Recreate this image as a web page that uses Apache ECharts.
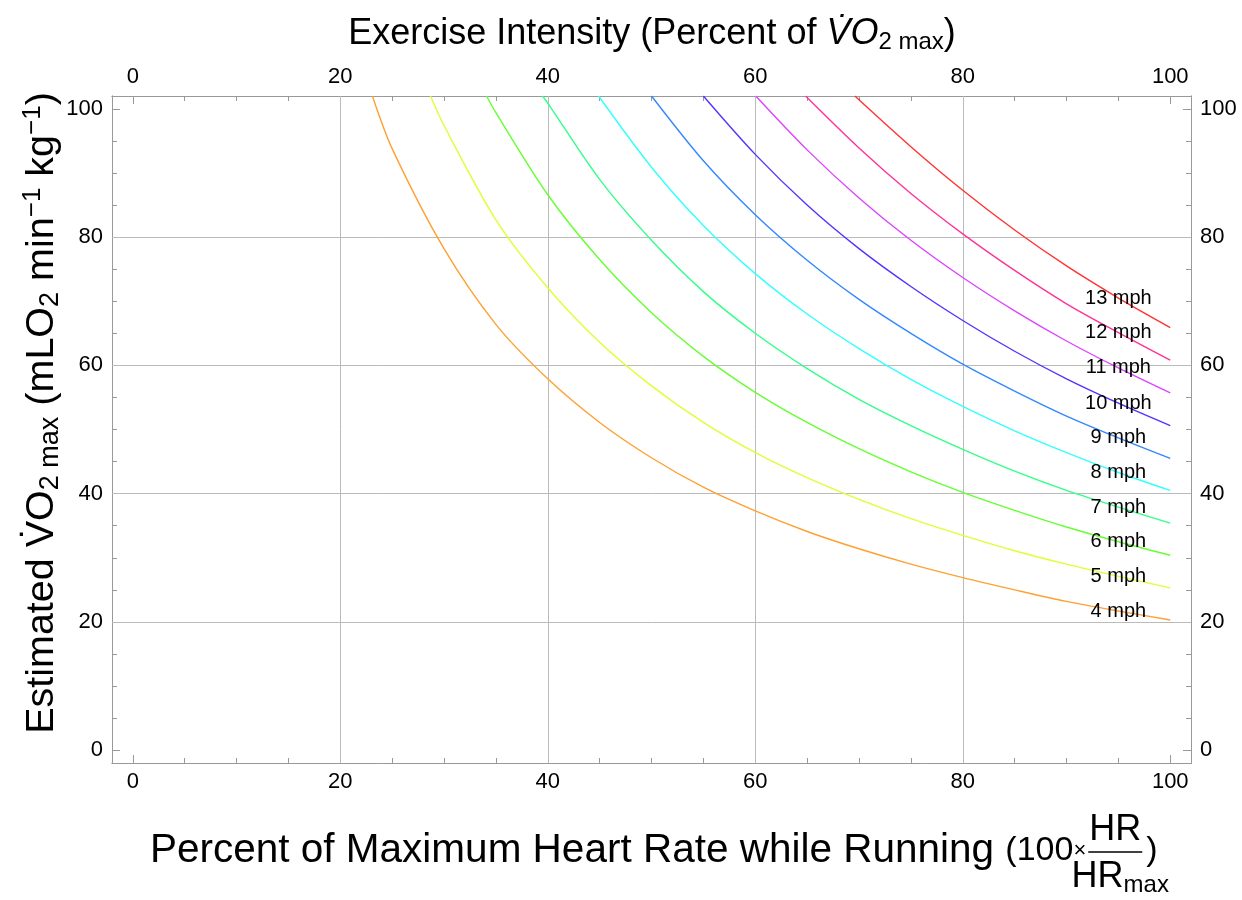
<!DOCTYPE html>
<html>
<head>
<meta charset="utf-8">
<script src="https://cdn.jsdelivr.net/npm/echarts@6/dist/echarts.min.js"></script>
<style>
  html, body { margin: 0; background: #fff; }
  #chart { width: 1242px; height: 900px; }
</style>
</head>
<body>
<div id="chart"></div>
<script>
// running speeds, one curve each
const speeds = [4, 5, 6, 7, 8, 9, 10, 11, 12, 13];
// percent of max heart rate where the values were read
const hrGrid = [25, 30, 35, 40, 45, 50, 55, 60, 65, 70, 75, 80, 85, 90, 95, 100];
// where each curve leaves the top of the frame (y = 102)
const topCrossing = [23.1, 28.7, 34.1, 39.5, 44.9, 50.0, 55.0, 60.05, 64.85, 69.6];

// estimated VO2max, aligned with hrGrid
const vo2mph4  = [93.8, 78.2, 66.4, 57.9, 51.1, 45.6, 41.0, 37.3, 34.1, 31.4, 29.0, 26.9, 25.0, 23.2, 21.7, 20.3];
const vo2mph5  = [null, 97.4, 82.7, 72.1, 63.6, 56.8, 51.1, 46.4, 42.5, 39.1, 36.1, 33.5, 31.1, 29.0, 27.1, 25.3];
const vo2mph6  = [null, null, 99.4, 86.6, 76.5, 68.2, 61.4, 55.8, 51.1, 47.0, 43.4, 40.2, 37.4, 34.8, 32.5, 30.4];
const vo2mph7  = [null, null, null, 100.9, 89.0, 79.5, 71.5, 65.0, 59.5, 54.7, 50.6, 46.9, 43.5, 40.5, 37.9, 35.4];
const vo2mph8  = [null, null, null, null, null, 90.9, 81.8, 74.3, 68.0, 62.6, 57.8, 53.6, 49.8, 46.4, 43.3, 40.5];
const vo2mph9  = [null, null, null, null, null, null, 91.9, 83.5, 76.4, 70.3, 65.0, 60.2, 56.0, 52.1, 48.7, 45.5];
const vo2mph10 = [null, null, null, null, null, null, null, 92.9, 85.0, 78.2, 72.3, 67.0, 62.2, 57.9, 54.1, 50.6];
const vo2mph11 = [null, null, null, null, null, null, null, null, 93.6, 86.1, 79.5, 73.7, 68.5, 63.8, 59.6, 55.7];
const vo2mph12 = [null, null, null, null, null, null, null, null, null, 93.9, 86.8, 80.5, 74.8, 69.6, 65.1, 60.8];
const vo2mph13 = [null, null, null, null, null, null, null, null, null, null, 94.1, 87.3, 81.1, 75.5, 70.5, 65.9];
const vo2Curves = [vo2mph4, vo2mph5, vo2mph6, vo2mph7, vo2mph8, vo2mph9, vo2mph10, vo2mph11, vo2mph12, vo2mph13];

const curveColors = ['#ffa033', '#ddff33', '#66ff33', '#33ff88', '#33ffff',
                     '#3388ff', '#5533ff', '#dd44ff', '#ff3399', '#ff3333'];

const majorTicks = [0, 20, 40, 60, 80, 100];
const minorTicks = [5, 10, 15, 25, 30, 35, 45, 50, 55, 65, 70, 75, 85, 90, 95];
const gridValues = [20, 40, 60, 80];
const labelHr = 95; // speed labels sit on the curves here

const FONT = '"Liberation Sans", Arial, sans-serif';
const axisMin = -2, axisMax = 102;

var myChart = echarts.init(document.getElementById('chart'));

// one axis copy with labels + long ticks, one with short minor ticks
function makeAxis(pos, minor) {
  var horiz = pos === 'top' || pos === 'bottom';
  return {
    type: 'value',
    position: pos,
    min: axisMin,
    max: axisMax,
    axisLine: { show: true, onZero: false, lineStyle: { color: '#999', width: 1 } },
    axisTick: {
      show: true,
      inside: true,
      length: minor ? 5 : 8,
      customValues: minor ? minorTicks : majorTicks,
      lineStyle: { color: '#999', width: 1 }
    },
    axisLabel: {
      show: !minor,
      customValues: majorTicks,
      fontSize: 22,
      fontFamily: FONT,
      color: '#000',
      margin: horiz ? 8 : 9
    },
    splitLine: { show: false }
  };
}

var series = [];
// grid lines
series.push({
  type: 'line',
  data: [],
  silent: true,
  markLine: {
    silent: true,
    z: 1,
    symbol: ['none', 'none'],
    label: { show: false },
    lineStyle: { color: '#bbb', width: 1, type: 'solid' },
    data: gridValues.map(v => ({ xAxis: v })).concat(gridValues.map(v => ({ yAxis: v })))
  }
});

vo2Curves.forEach(function (vals, i) {
  var pts = [[topCrossing[i], axisMax]];
  hrGrid.forEach(function (x, j) {
    if (vals[j] != null) pts.push([x, vals[j]]);
  });
  series.push({
    type: 'line',
    name: speeds[i] + ' mph',
    data: pts,
    showSymbol: false,
    smooth: 0.3,
    z: 3,
    lineStyle: { color: curveColors[i], width: 1.4 },
    itemStyle: { color: curveColors[i] }
  });
});

// speed labels
series.push({
  type: 'scatter',
  z: 5,
  silent: true,
  symbolSize: 1,
  itemStyle: { color: 'rgba(0,0,0,0)' },
  label: {
    show: true, position: 'inside', fontSize: 20, fontFamily: FONT,
    color: '#000', textBorderWidth: 0, opacity: 1
  },
  emphasis: { disabled: true },
  data: speeds.map(function (s, i) {
    return {
      value: [labelHr, vo2Curves[i][hrGrid.indexOf(labelHr)]],
      label: { formatter: s + ' mph' }
    };
  })
});

// measure bottom title pieces so the fraction follows them
var ctx = document.createElement('canvas').getContext('2d');
var bottomMain = 'Percent of Maximum Heart Rate while Running ';
var bottomParen = '(100';
ctx.font = '40.5px ' + FONT;
var mainX = 150;
var mainW = ctx.measureText(bottomMain).width;
ctx.font = '34px ' + FONT;
var parenW = ctx.measureText(bottomParen).width;
ctx.font = '22px ' + FONT;
var timesW = ctx.measureText('\u00d7').width;
var fracX0 = mainX + mainW + parenW + timesW + 2;
var fracX1 = fracX0 + 54;
var fracMid = (fracX0 + fracX1) / 2;

function richSet(size) {
  return {
    n: { fontSize: size, fontFamily: FONT, color: '#000', lineHeight: size + 4 },
    m: { fontSize: 34, fontFamily: FONT, color: '#000', lineHeight: size + 4 },
    i: { fontSize: size, fontFamily: FONT, color: '#000', fontStyle: 'italic', lineHeight: size + 4 },
    sub: { fontSize: Math.round(size * 0.68), fontFamily: FONT, color: '#000', verticalAlign: 'bottom', lineHeight: Math.round(size * 0.72) },
    sup: { fontSize: Math.round(size * 0.66), fontFamily: FONT, color: '#000', verticalAlign: 'top', lineHeight: Math.round(size * 0.66) },
    t: { fontSize: 22, fontFamily: FONT, color: '#000', lineHeight: size + 4 }
  };
}

var option = {
  animation: false,
  backgroundColor: '#fff',
  grid: { left: 112, right: 51, top: 96, bottom: 137 },
  xAxis: [makeAxis('bottom', false), makeAxis('bottom', true), makeAxis('top', false), makeAxis('top', true)],
  yAxis: [makeAxis('left', false), makeAxis('left', true), makeAxis('right', false), makeAxis('right', true)],
  series: series,
  graphic: [
    {
      type: 'text', x: 652, y: 34,
      style: {
        text: '{n|Exercise Intensity }{n|(}{n|Percent of }{i|V\u0307O}{sub|2 max}{n|)}',
        rich: richSet(36), align: 'center', verticalAlign: 'middle'
      }
    },
    {
      type: 'text', x: 42, y: 413, rotation: Math.PI / 2,
      style: {
        text: '{n|Estimated V\u0307O}{sub|2 max}{n| (mLO}{sub|2}{n| min}{sup|\u22121}{n| kg}{sup|\u22121}{n|)}',
        rich: richSet(39.5), align: 'center', verticalAlign: 'middle'
      }
    },
    {
      type: 'text', x: mainX, y: 851,
      style: {
        text: '{n|' + bottomMain + '}{m|' + bottomParen + '}{t|\u00d7}',
        rich: richSet(40.5), align: 'left', verticalAlign: 'middle'
      }
    },
    {
      type: 'line',
      shape: { x1: fracX0, y1: 852, x2: fracX1, y2: 852 },
      style: { stroke: '#000', lineWidth: 1.5 }
    },
    {
      type: 'text', x: fracMid, y: 830,
      style: { text: '{n|HR}', rich: richSet(36), align: 'center', verticalAlign: 'middle' }
    },
    {
      type: 'text', x: fracMid + 5, y: 877,
      style: { text: '{n|HR}{sub|max}', rich: richSet(36), align: 'center', verticalAlign: 'middle' }
    },
    {
      type: 'text', x: fracX1 + 4, y: 851,
      style: { text: '{m|)}', rich: richSet(40.5), align: 'left', verticalAlign: 'middle' }
    }
  ]
};

myChart.setOption(option);
</script>
</body>
</html>
